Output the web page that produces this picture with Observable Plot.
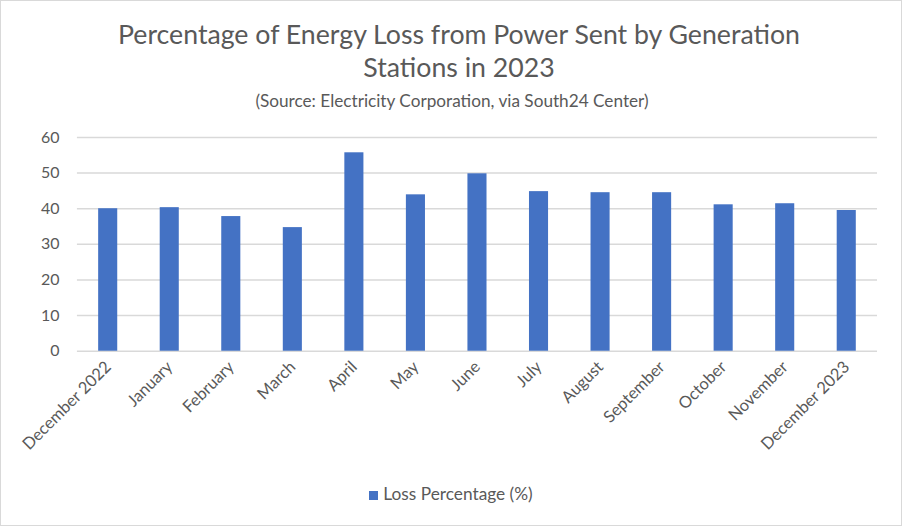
<!DOCTYPE html>
<html>
<head>
<meta charset="utf-8">
<script src="https://cdn.jsdelivr.net/npm/d3@7"></script>
<script src="https://cdn.jsdelivr.net/npm/@observablehq/plot@0.6"></script>
<style>
  html, body { margin: 0; padding: 0; background: #fff; }
  #frame { position: relative; width: 900px; height: 524px; border: 1px solid #d9d9d9; overflow: hidden; font-family: Lato, "Open Sans", sans-serif; color: #595959; }
  #title { position: absolute; top: 17px; left: 8px; width: 100%; text-align: center; font-size: 26.7px; line-height: 33px; }
  #subtitle { position: absolute; top: 89px; left: 1px; width: 100%; text-align: center; font-size: 17.2px; }
  #chart { position: absolute; top: 114px; left: -1px; }
  #legend { position: absolute; top: 482px; left: 0; width: 100%; text-align: center; font-size: 17.3px; }
  #legend .sw { display: inline-block; width: 9px; height: 9px; background: #4472C4; margin-right: 5px; vertical-align: 0px; }
</style>
</head>
<body>
<div id="frame">
  <div id="title">Percentage of Energy Loss from Power Sent by Generation<br>Stations in 2023</div>
  <div id="subtitle">(Source: Electricity Corporation, via South24 Center)</div>
  <div id="chart"></div>
  <div id="legend"><span class="sw"></span>Loss Percentage (%)</div>
</div>
<script>
const months = ["December 2022", "January", "February", "March", "April", "May", "June", "July", "August", "September", "October", "November", "December 2023"];
const lossPct = [40.0, 40.3, 37.8, 34.7, 55.7, 43.9, 49.8, 44.8, 44.5, 44.5, 41.1, 41.4, 39.5];
const yTicks = [0, 10, 20, 30, 40, 50, 60];

const data = months.map((m, i) => ({month: m, value: lossPct[i]}));

const chart = Plot.plot({
  width: 902,
  height: 345,
  marginTop: 22,
  marginBottom: 109,
  marginLeft: 77,
  marginRight: 24,
  style: {fontFamily: "Lato, 'Open Sans', sans-serif", fontSize: "15px", color: "#595959", background: "transparent"},
  x: {domain: months, paddingInner: 0.69, paddingOuter: 0.345, round: false, label: null},
  y: {domain: [0, 60], label: null},
  marks: [
    Plot.ruleY(yTicks, {stroke: "#d9d9d9", strokeWidth: 1.5}),
    Plot.barY(data, {x: "month", y: "value", fill: "#4472C4"}),
    Plot.axisY({ticks: yTicks, tickSize: 0, tickPadding: 18, label: null, fontSize: 16}),
    Plot.axisX({tickSize: 0, tickRotate: -45, tickPadding: 13, label: null, fontSize: 16.5})
  ]
});
document.getElementById("chart").appendChild(chart);
</script>
</body>
</html>
